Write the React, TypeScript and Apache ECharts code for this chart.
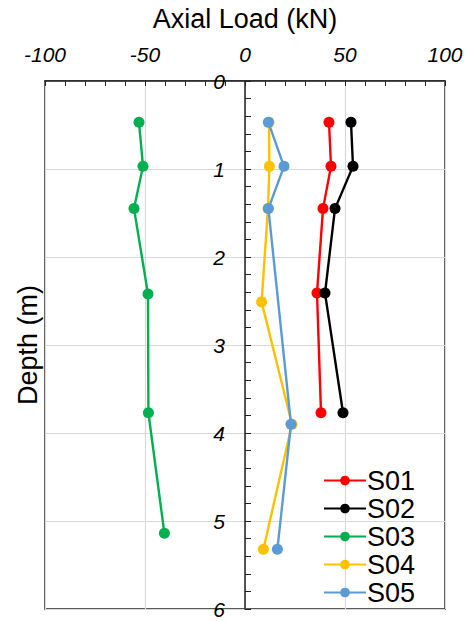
import React, { useEffect, useRef } from "react";
import * as echarts from "echarts";

// Depths (m) and axial loads (kN) for each strain gauge string
const depthsS01 = [0.47, 0.97, 1.45, 2.41, 3.77];
const loadS01 = [42, 43, 39, 36, 38];

const depthsS02 = [0.47, 0.97, 1.45, 2.41, 3.77];
const loadS02 = [53, 54, 45, 40, 49];

const depthsS03 = [0.47, 0.97, 1.45, 2.42, 3.77, 5.14];
const loadS03 = [-53, -51, -55.5, -48.5, -48.3, -40.3];

const depthsS04 = [0.47, 0.97, 1.45, 2.51, 3.9, 5.32];
const loadS04 = [12, 12.2, 11.5, 8.3, 23.5, 9.2];

const depthsS05 = [0.47, 0.97, 1.45, 3.9, 5.32];
const loadS05 = [11.7, 19.5, 11.7, 23, 16.2];

const seriesNames = ["S01", "S02", "S03", "S04", "S05"];
const seriesColors = ["#ff0000", "#000000", "#00b050", "#ffc000", "#5b9bd5"];
const seriesLoads = [loadS01, loadS02, loadS03, loadS04, loadS05];
const seriesDepths = [depthsS01, depthsS02, depthsS03, depthsS04, depthsS05];

const FONT = "Liberation Sans";

export default function App() {
  const ref = useRef<HTMLDivElement>(null);

  useEffect(() => {
    if (!ref.current) return;
    const chart = echarts.init(ref.current, null, { renderer: "svg" });

    const series = seriesNames.map((name, i) => ({
      name,
      type: "line",
      data: seriesLoads[i].map((v, j) => [v, seriesDepths[i][j]]),
      symbol: "circle",
      symbolSize: 11,
      lineStyle: { color: seriesColors[i], width: 2.4 },
      itemStyle: { color: seriesColors[i] },
      z: 2 + i,
    }));

    chart.setOption({
      animation: false,
      backgroundColor: "#ffffff",
      grid: {
        left: 45,
        right: 27,
        top: 81,
        bottom: 12,
        outerBoundsMode: "none",
        containLabel: false,
        show: true,
        borderColor: "#222",
        borderWidth: 1.5,
        backgroundColor: "transparent",
      },
      legend: {
        orient: "vertical",
        left: 318,
        top: 462,
        itemWidth: 42,
        itemHeight: 12,
        itemGap: 1,
        data: seriesNames,
        textStyle: { fontFamily: FONT, fontSize: 27, color: "#000", padding: [0, 0, 0, -4] },
      },
      xAxis: {
        type: "value",
        position: "top",
        min: -100,
        max: 100,
        interval: 50,
        axisLine: { show: true, onZero: false, lineStyle: { color: "#222", width: 1.5 } },
        axisTick: { show: true, inside: true, length: 5, lineStyle: { color: "#222" } },
        minorTick: { show: true, splitNumber: 5, length: 5, lineStyle: { color: "#222" } },
        axisLabel: {
          fontFamily: FONT,
          fontSize: 21,
          fontStyle: "italic",
          color: "#000",
          margin: 16,
        },
        splitLine: { show: true, lineStyle: { color: "#d9d9d9", width: 1.2 } },
      },
      yAxis: {
        type: "value",
        inverse: true,
        min: 0,
        max: 6,
        interval: 1,
        position: "left",
        offset: -200,
        axisLine: { show: true, onZero: false, lineStyle: { color: "#222", width: 1.5 } },
        axisTick: { show: true, inside: true, length: 6, lineStyle: { color: "#222" } },
        minorTick: { show: true, splitNumber: 5, length: 6, lineStyle: { color: "#222" } },
        axisLabel: {
          fontFamily: FONT,
          fontSize: 21,
          fontStyle: "italic",
          color: "#000",
          margin: 20,
        },
        splitLine: { show: true, lineStyle: { color: "#d9d9d9", width: 1.2 } },
      },
      graphic: [
        {
          type: "text",
          x: 245,
          y: 19,
          style: {
            text: "Axial Load (kN)",
            fontFamily: FONT,
            fontSize: 27,
            fill: "#000",
            textAlign: "center",
            textVerticalAlign: "middle",
          },
        },
        {
          type: "text",
          x: 28,
          y: 345,
          rotation: Math.PI / 2,
          style: {
            text: "Depth (m)",
            fontFamily: FONT,
            fontSize: 27,
            fill: "#000",
            textAlign: "center",
            textVerticalAlign: "middle",
          },
        },
      ],
      series,
    });

    return () => chart.dispose();
  }, []);

  return (
    <div
      ref={ref}
      style={{ position: "fixed", left: 0, top: 0, width: 472, height: 621 }}
    />
  );
}
